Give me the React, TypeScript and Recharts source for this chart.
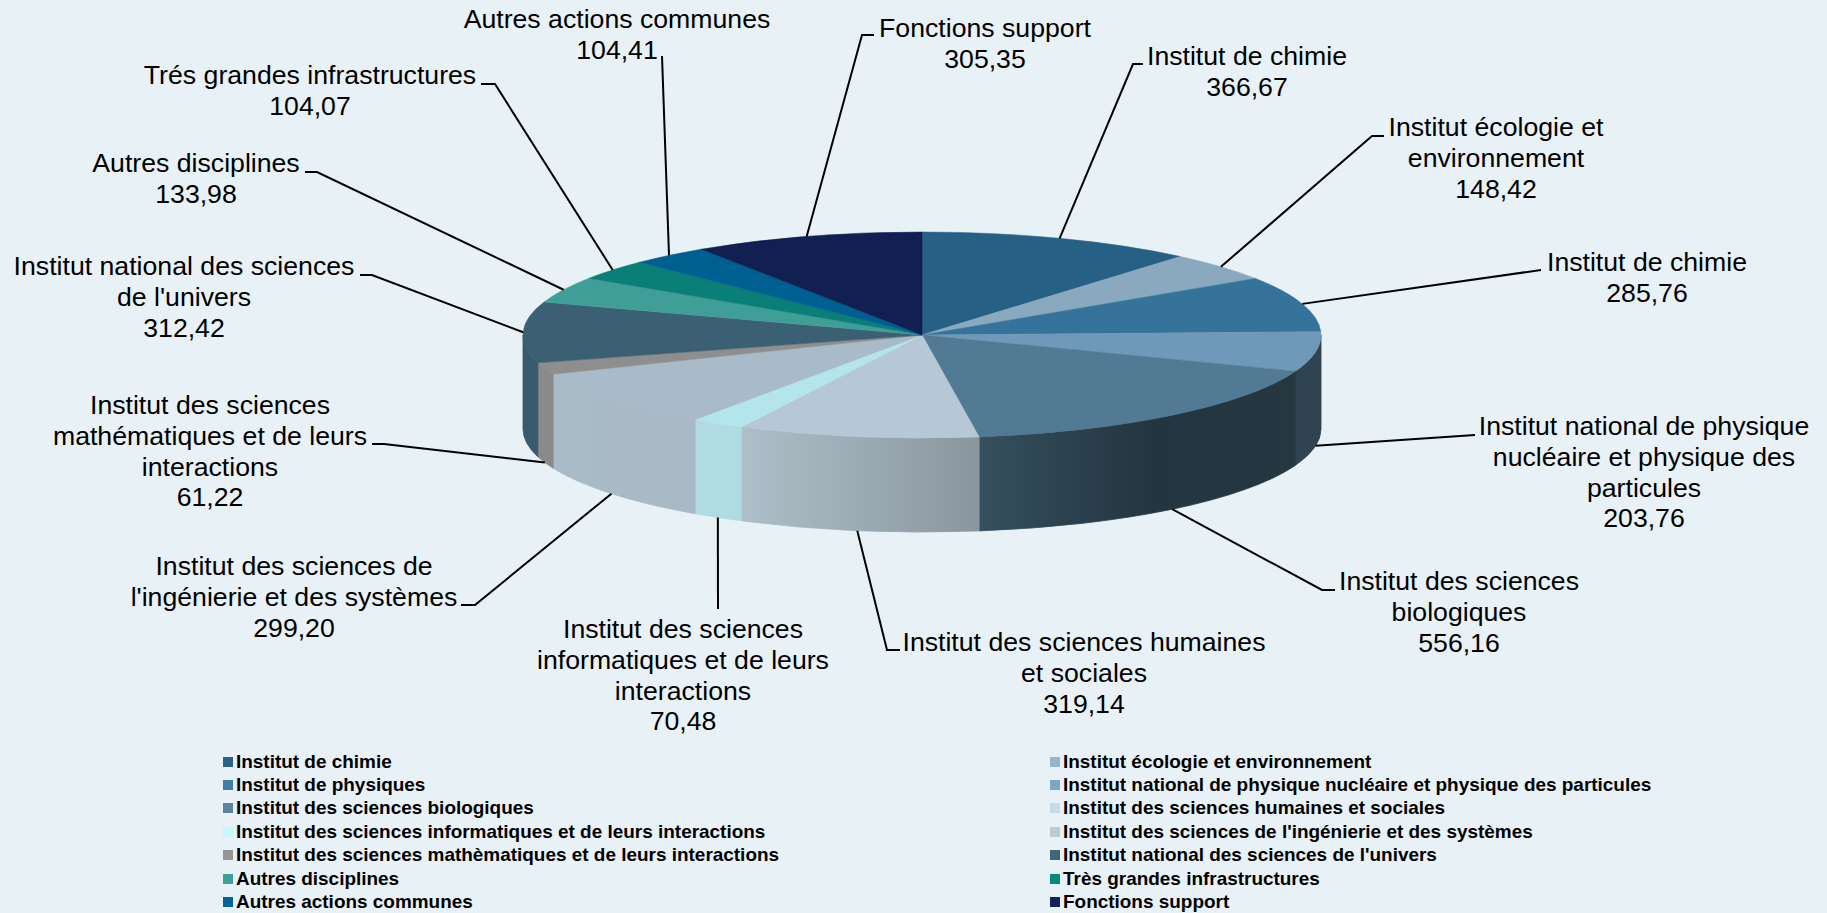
import { Legend, Pie, PieChart } from 'recharts';

const WIDTH = 1827;
const HEIGHT = 913;
const BG = '#e8f1f6';

const CATEGORIES = [
  'Institut de chimie',
  'Institut écologie et environnement',
  'Institut de physiques',
  'Institut national de physique nucléaire et physique des particules',
  'Institut des sciences biologiques',
  'Institut des sciences humaines et sociales',
  'Institut des sciences informatiques et de leurs interactions',
  "Institut des sciences de l'ingénierie et des systèmes",
  'Institut des sciences mathèmatiques et de leurs interactions',
  "Institut national des sciences de l'univers",
  'Autres disciplines',
  'Très grandes infrastructures',
  'Autres actions communes',
  'Fonctions support',
];

const VALUES = [
  366.67, 148.42, 285.76, 203.76, 556.16, 319.14, 70.48, 299.2, 61.22, 312.42,
  133.98, 104.07, 104.41, 305.35,
];

const VALUE_TEXT = [
  '366,67', '148,42', '285,76', '203,76', '556,16', '319,14', '70,48', '299,20',
  '61,22', '312,42', '133,98', '104,07', '104,41', '305,35',
];

const LABEL_LINES = [
  ['Institut de chimie'],
  ['Institut écologie et', 'environnement'],
  ['Institut de chimie'],
  ['Institut national de physique', 'nucléaire et physique des', 'particules'],
  ['Institut des sciences', 'biologiques'],
  ['Institut des sciences humaines', 'et sociales'],
  ['Institut des sciences', 'informatiques et de leurs', 'interactions'],
  ['Institut des sciences de', "l'ingénierie et des systèmes"],
  ['Institut des sciences', 'mathématiques et de leurs', 'interactions'],
  ['Institut national des sciences', "de l'univers"],
  ['Autres disciplines'],
  ['Trés grandes infrastructures'],
  ['Autres actions communes'],
  ['Fonctions support'],
];

const TOP_COLORS = [
  '#266084', '#8aa9bf', '#35739b', '#6f99b8', '#527a94', '#b6c8d5', '#b5e5ec',
  '#a9bbc8', '#8e8e8e', '#3b6074', '#3f9e97', '#0a7f78', '#005f91', '#111f52',
];

const WALL_COLORS = [
  '#1d4a66', '#6a8496', '#2a5a78', '#304350', 'url(#wallBio)', 'url(#wallShs)',
  '#b0dbe3', 'url(#wallIng)', '#8a8a8a', '#39596f', '#30807a', '#08635e',
  '#004a72', '#0d1840',
];

const LEGEND_COLORS = [
  '#2b6489', '#95b5cf', '#3f7ea9', '#7ba6c6', '#5a84a0', '#c7dae6', '#c8f5fc',
  '#bdcbd3', '#969696', '#41657e', '#3da398', '#078880', '#00659c', '#14225b',
];

// label placement: text centre x, first line centre y, leader elbow, leader tail
const LABEL_LAYOUT = [
  { x: 1247, y: 56, elbow: [1133, 64], tail: [1143, 64] },
  { x: 1496, y: 127, elbow: [1372, 136], tail: [1384, 136] },
  { x: 1647, y: 262, elbow: [1541, 270], tail: [1541, 270] },
  { x: 1644, y: 426, elbow: [1475, 435], tail: [1475, 435] },
  { x: 1459, y: 581, elbow: [1322, 590], tail: [1335, 590] },
  { x: 1084, y: 642, elbow: [887, 650], tail: [900, 650] },
  { x: 683, y: 629, elbow: [718, 609], tail: [718, 609] },
  { x: 294, y: 566, elbow: [475, 605], tail: [461, 605] },
  { x: 210, y: 405, elbow: [384, 444], tail: [372, 444] },
  { x: 184, y: 266, elbow: [372, 275], tail: [360, 275] },
  { x: 196, y: 163, elbow: [317, 172], tail: [305, 172] },
  { x: 310, y: 75, elbow: [495, 84], tail: [481, 84] },
  { x: 617, y: 19, elbow: [662, 56], tail: [662, 56] },
  { x: 985, y: 28, elbow: [862, 35], tail: [874, 35] },
];

const data = CATEGORIES.map((name, i) => ({
  name,
  value: VALUES[i],
  fill: TOP_COLORS[i],
  wall: WALL_COLORS[i],
}));

const CX = 922;
const CY = 335;
const RX = 399;
const SQUASH = 103 / 399;
const DEPTH = 94;
const LINE_H = 30.8;

const RAD = Math.PI / 180;
const px = (cx: number, r: number, a: number) => cx + r * Math.cos(a * RAD);
const py = (cy: number, r: number, a: number) => cy - r * SQUASH * Math.sin(a * RAD);

function Slice3D(props: any) {
  const { cx, cy, outerRadius: r, startAngle, endAngle, fill, payload } = props;
  const ry = r * SQUASH;
  const large = startAngle - endAngle > 180 ? 1 : 0;
  const top = `M${cx},${cy} L${px(cx, r, startAngle)},${py(cy, r, startAngle)} A${r},${ry} 0 ${large} 1 ${px(cx, r, endAngle)},${py(cy, r, endAngle)} Z`;

  // side wall only on the front half, angles run 0 to -180
  const a0 = Math.min(startAngle, 0);
  const a1 = Math.max(endAngle, -180);
  let wall = null;
  if (a0 > a1) {
    const d = [
      `M${px(cx, r, a0)},${py(cy, r, a0)}`,
      `A${r},${ry} 0 0 1 ${px(cx, r, a1)},${py(cy, r, a1)}`,
      `L${px(cx, r, a1)},${py(cy, r, a1) + DEPTH}`,
      `A${r},${ry} 0 0 0 ${px(cx, r, a0)},${py(cy, r, a0) + DEPTH}`,
      'Z',
    ].join(' ');
    const wallFill = payload?.wall ?? props.wall;
    // thin stroke closes the antialiasing seam against the top surface
    wall = <path d={d} fill={wallFill} stroke={wallFill} strokeWidth={0.8} />;
  }
  return (
    <g>
      {wall}
      <path d={top} fill={fill} stroke={fill} strokeWidth={0.5} />
    </g>
  );
}

function SliceLabel(props: any) {
  const { cx, cy, outerRadius: r, midAngle, index } = props;
  const box = LABEL_LAYOUT[index];
  const onWall = Math.sin(midAngle * RAD) < 0;
  const sx = px(cx, r, midAngle);
  const sy = py(cy, r, midAngle) + (onWall ? DEPTH : 0);
  const lines = [...LABEL_LINES[index], VALUE_TEXT[index]];
  return (
    <g>
      <polyline
        points={`${sx},${sy} ${box.elbow[0]},${box.elbow[1]} ${box.tail[0]},${box.tail[1]}`}
        fill="none"
        stroke="#000"
        strokeWidth={2}
      />
      <text
        x={box.x}
        textAnchor="middle"
        fontFamily="Liberation Sans"
        fontSize={26.67}
        fill="#000"
      >
        {lines.map((t, i) => (
          <tspan key={i} x={box.x} y={box.y + i * LINE_H + 9}>
            {t}
          </tspan>
        ))}
      </text>
    </g>
  );
}

const LEGEND_COLS = [223, 1050];
const LEGEND_ROWS = [762, 785, 808, 832, 855, 879, 902];

function LegendGrid() {
  return (
    <div style={{ position: 'relative', width: WIDTH, height: HEIGHT }}>
      {CATEGORIES.map((name, i) => {
        const left = LEGEND_COLS[i % 2];
        const top = LEGEND_ROWS[Math.floor(i / 2)];
        return (
          <div key={name}>
            <div
              style={{
                position: 'absolute',
                left,
                top: top - 5,
                width: 10,
                height: 10,
                background: LEGEND_COLORS[i],
              }}
            />
            <div
              style={{
                position: 'absolute',
                left: left + 13,
                top: top - 12,
                lineHeight: '24px',
                fontFamily: 'Liberation Sans',
                fontWeight: 700,
                fontSize: 18.95,
                color: '#000',
                whiteSpace: 'nowrap',
              }}
            >
              {name}
            </div>
          </div>
        );
      })}
    </div>
  );
}

export default function App() {
  return (
    <div
      style={{
        position: 'absolute',
        left: 0,
        top: 0,
        width: WIDTH,
        height: HEIGHT,
        background: BG,
        overflow: 'hidden',
      }}
    >
      <PieChart width={WIDTH} height={HEIGHT} margin={{ top: 0, right: 0, bottom: 0, left: 0 }}>
        <defs>
          <linearGradient id="wallBio" x1="0" y1="0" x2="1" y2="0">
            <stop offset="0" stopColor="#35505e" />
            <stop offset="0.55" stopColor="#233540" />
            <stop offset="1" stopColor="#25373f" />
          </linearGradient>
          <linearGradient id="wallShs" x1="0" y1="0" x2="1" y2="0">
            <stop offset="0" stopColor="#aebfc9" />
            <stop offset="1" stopColor="#8a969e" />
          </linearGradient>
          <linearGradient id="wallIng" x1="0" y1="0" x2="1" y2="0">
            <stop offset="0" stopColor="#a9bbc8" />
            <stop offset="1" stopColor="#a9b9c5" />
          </linearGradient>
        </defs>
        <Pie
          data={data}
          dataKey="value"
          nameKey="name"
          cx={CX}
          cy={CY}
          innerRadius={0}
          outerRadius={RX}
          startAngle={90}
          endAngle={-270}
          paddingAngle={0}
          stroke="none"
          isAnimationActive={false}
          shape={Slice3D}
          label={SliceLabel}
          labelLine={false}
        />
        <Legend
          content={LegendGrid}
          wrapperStyle={{ position: 'absolute', left: 0, top: 0, width: WIDTH, height: HEIGHT, pointerEvents: 'none' }}
        />
      </PieChart>
    </div>
  );
}
